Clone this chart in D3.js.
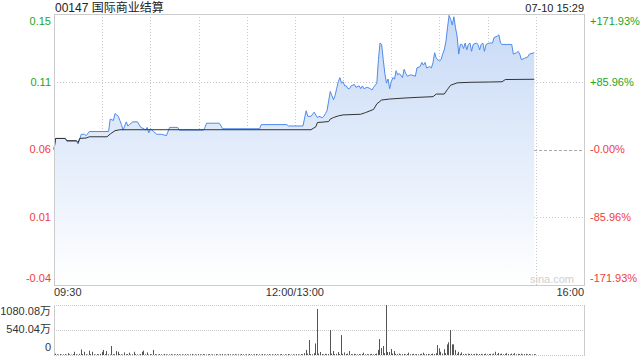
<!DOCTYPE html>
<html>
<head>
<meta charset="utf-8">
<script src="https://cdn.jsdelivr.net/npm/d3@7"></script>
<style>
  body { margin: 0; background: #fff; }
  text { font-family: "Liberation Sans", Arial, "Noto Sans CJK SC", sans-serif; }
</style>
</head>
<body>
<svg id="chart" width="640" height="360"></svg>
<script>
// 标题
const stockTitle = "00147 国际商业结算";
const stampText = "07-10 15:29";

// 昨收与坐标刻度
const prevClose = 0.057;
const pctTicks = [171.93, 85.96, 0, -85.96, -171.93];
const priceLabels = ["0.15", "0.11", "0.06", "0.01", "-0.04"];
const pctLabels = ["+171.93%", "+85.96%", "-0.00%", "-85.96%", "-171.93%"];

// 时间轴 (分钟, 09:30起, 午休不计)
const totalMinutes = 330;
const timeTicks = [0, 150, 330];
const timeLabels = ["09:30", "12:00/13:00", "16:00"];
const gridMinutes = [30, 60, 90, 120, 150, 180, 210, 240, 270, 300];

// 成交量刻度 (万)
const volTicks = [1080.08, 540.04, 0];
const volLabels = ["1080.08万", "540.04万", "0"];

// 分时价格
const priceTimes = [0, 1, 7, 8, 14, 15, 17, 19, 20, 22, 34, 35, 37, 38, 40, 41, 42, 43, 45, 46, 47, 49, 52, 54, 56, 57, 58, 59, 60, 61, 62, 64, 67, 70, 72, 77, 78, 93, 94, 95, 103, 105, 128, 129, 145, 146, 155,
  157, 158, 160, 162, 164, 165, 167, 168, 169, 170, 171, 172, 173, 174, 175, 176, 177, 178, 179, 180, 181, 182, 183, 184, 185, 187, 188, 190, 191, 192, 193, 195, 197, 198, 199, 201, 202, 203, 204, 205, 206, 207, 208, 209, 210, 211, 212, 213, 214, 215, 217, 218, 219, 220, 222, 225, 226, 228, 229, 230, 231, 232, 234, 235, 236, 237, 238, 240, 241, 242, 243, 244, 245, 246, 247, 248, 249, 250, 251, 252, 253, 254, 255, 256, 257, 258, 259, 260, 261, 263, 264, 265, 266, 267, 268, 269, 271, 273, 274, 276, 277, 278, 279, 285, 286, 288, 289, 290, 291, 293, 295, 296, 299];
const prices = [0.057, 0.065, 0.065, 0.063, 0.063, 0.061, 0.068, 0.068, 0.067, 0.070, 0.070, 0.079, 0.078, 0.083, 0.081, 0.078, 0.075, 0.071, 0.077, 0.074, 0.075, 0.077, 0.077, 0.073, 0.072, 0.071, 0.073, 0.069, 0.072, 0.071, 0.070, 0.068, 0.068, 0.067, 0.073, 0.073, 0.071, 0.071, 0.073, 0.076, 0.076, 0.072, 0.072, 0.075, 0.075, 0.074, 0.074,
  0.085, 0.081, 0.081, 0.084, 0.080, 0.081, 0.080, 0.081, 0.083, 0.085, 0.092, 0.099, 0.096, 0.093, 0.096, 0.101, 0.106, 0.109, 0.105, 0.106, 0.103, 0.103, 0.101, 0.101, 0.103, 0.104, 0.102, 0.103, 0.101, 0.103, 0.101, 0.102, 0.101, 0.100, 0.102, 0.105, 0.122, 0.134, 0.133, 0.122, 0.112, 0.105, 0.108, 0.101, 0.106, 0.109, 0.108, 0.114, 0.111, 0.112, 0.109, 0.115, 0.112, 0.110, 0.111, 0.110, 0.116, 0.117, 0.120, 0.118, 0.120, 0.116, 0.117, 0.116, 0.120, 0.127, 0.123, 0.121, 0.122, 0.126, 0.129, 0.135, 0.145, 0.154, 0.151, 0.147, 0.153, 0.145, 0.139, 0.126, 0.133, 0.133, 0.130, 0.134, 0.129, 0.133, 0.134, 0.128, 0.133, 0.134, 0.133, 0.129, 0.133, 0.134, 0.128, 0.133, 0.134, 0.134, 0.138, 0.139, 0.140, 0.134, 0.133, 0.133, 0.126, 0.127, 0.128, 0.126, 0.122, 0.123, 0.124, 0.126, 0.127];

// 均价
const avgTimes = [0, 1, 7, 8, 14, 15, 16, 20, 22, 33, 35, 38, 41, 155, 160, 163, 164, 171, 172, 174, 177, 180, 191, 194, 199, 201, 204, 209, 218, 226, 236, 238, 243, 245, 247, 251, 259, 271, 279, 281, 299];
const avgPrices = [0.057, 0.065, 0.065, 0.0634, 0.0634, 0.062, 0.0650, 0.0653, 0.0662, 0.0662, 0.0682, 0.0706, 0.0713, 0.0713, 0.0713, 0.0734, 0.0765, 0.0772, 0.079, 0.0801, 0.0813, 0.082, 0.0825, 0.0837, 0.086, 0.090, 0.0928, 0.0935, 0.0942, 0.0947, 0.0952, 0.0971, 0.0971, 0.1005, 0.1035, 0.1052, 0.1056, 0.1058, 0.1060, 0.1076, 0.1078];

// 每分钟成交量 (万)
const volumes = [
  30, 15, 10, 20, 10, 15, 20, 10, 40, 15, 10, 20, 70, 15, 10, 25, 120, 20, 70, 15, 10, 95, 20, 70, 15, 10, 20, 15, 25, 70,
  110, 20, 85, 15, 10, 195, 20, 15, 85, 70, 20, 15, 10, 55, 15, 20, 50, 10, 15, 70, 20, 15, 10, 20, 70, 95, 15, 55, 10, 20,
  15, 110, 20, 15, 10, 20, 15, 10, 20, 15, 10, 15, 20, 10, 15, 10, 20, 15, 10, 15, 10, 20, 15, 10, 15, 20, 10, 15, 10, 20,
  15, 10, 20, 15, 10, 15, 20, 10, 15, 10, 20, 15, 10, 15, 20, 10, 15, 10, 20, 15, 10, 15, 20, 10, 15, 10, 20, 15, 10, 15,
  10, 20, 15, 10, 15, 20, 10, 15, 10, 20, 15, 10, 15, 20, 10, 15, 10, 20, 15, 10, 15, 20, 10, 15, 10, 20, 15, 10, 15, 10,
  20, 15, 10, 20, 15, 40, 110, 30, 325, 20, 15, 40, 250, 995, 30, 65, 20, 15, 25, 20, 20, 540, 30, 85, 20, 25, 65, 20, 430, 25,
  55, 20, 30, 85, 20, 15, 25, 20, 15, 20, 15, 20, 50, 15, 20, 15, 20, 25, 15, 20, 30, 110, 345, 150, 195, 40, 1080.08, 65, 65, 130,
  30, 85, 25, 20, 30, 15, 20, 25, 15, 20, 50, 15, 20, 25, 15, 20, 15, 20, 25, 50, 15, 20, 25, 15, 20, 30, 20, 40, 215, 145,
  70, 30, 125, 40, 230, 275, 540, 230, 230, 110, 30, 70, 25, 55, 20, 25, 15, 30, 20, 25, 15, 20, 30, 15, 20, 25, 15, 20, 30, 15,
  20, 25, 15, 30, 70, 20, 45, 20, 30, 15, 25, 40, 20, 15, 30, 20, 40, 15, 25, 20, 30, 15, 20, 25, 15, 20, 15, 10, 20, 15
];

const svg = d3.select("#chart");

// 布局
const plotL = 54, plotR = 584;
const plotT = 14, plotB = 285;
const volT = 305, volB = 355;

const lowP = prevClose * (1 + pctTicks[pctTicks.length - 1] / 100);
const highP = prevClose * (1 + pctTicks[0] / 100);

const x = d3.scaleLinear().domain([0, totalMinutes]).range([plotL, plotR]);
const y = d3.scaleLinear().domain([lowP, highP]).range([plotB, plotT]);
const yv = d3.scaleLinear().domain([0, volTicks[0]]).range([volB, volT]);

const px = v => Math.round(v) + 0.5;

// 渐变填充
const grad = svg.append("defs").append("linearGradient")
  .attr("id", "areaFill")
  .attr("gradientUnits", "userSpaceOnUse")
  .attr("x1", 0).attr("x2", 0)
  .attr("y1", plotT).attr("y2", plotB);
grad.append("stop").attr("offset", 0).attr("stop-color", "#c6d9f6");
grad.append("stop").attr("offset", 1).attr("stop-color", "#ffffff");

// 竖向网格
svg.append("g").selectAll("line")
  .data(gridMinutes)
  .join("line")
  .attr("x1", d => px(x(d))).attr("x2", d => px(x(d)))
  .attr("y1", plotT).attr("y2", plotB)
  .attr("stroke", "#c8c8c8")
  .attr("stroke-dasharray", "1,2");

// 横向网格
const tickPrices = pctTicks.map(p => prevClose * (1 + p / 100));
svg.append("g").selectAll("line")
  .data(tickPrices.slice(1, -1))
  .join("line")
  .attr("x1", plotL).attr("x2", plotR)
  .attr("y1", d => px(y(d))).attr("y2", d => px(y(d)))
  .attr("stroke", (d, i) => i === 1 ? "#aaa" : "#c8c8c8")
  .attr("stroke-dasharray", (d, i) => i === 1 ? "3,2" : "1,2");

// 价格面积与线
const pts = priceTimes.map((t, i) => [t, prices[i]]);
svg.append("path")
  .datum(pts)
  .attr("fill", "url(#areaFill)")
  .attr("d", d3.area().x(d => x(d[0])).y0(plotB).y1(d => y(d[1])));

svg.append("path")
  .datum(pts)
  .attr("fill", "none")
  .attr("stroke", "#4f8bea")
  .attr("stroke-width", 1)
  .attr("d", d3.line().x(d => x(d[0])).y(d => y(d[1])));

// 均价线
svg.append("path")
  .datum(avgTimes.map((t, i) => [t, avgPrices[i]]))
  .attr("fill", "none")
  .attr("stroke", "#333")
  .attr("stroke-width", 1)
  .attr("d", d3.line().x(d => x(d[0])).y(d => y(d[1])));

// 边框
svg.append("rect")
  .attr("x", plotL + 0.5).attr("y", plotT + 0.5)
  .attr("width", plotR - plotL).attr("height", plotB - plotT)
  .attr("fill", "none")
  .attr("stroke", "#ccc");

// 左右价格标签
const labelY = (d, i, n) => {
  const yy = y(d);
  if (i === 0) return yy + 7;
  if (i === n - 1) return yy - 7;
  return yy;
};
const lblColor = p => p > 0 ? "#1ca61c" : "#f03c3c";

svg.append("g").selectAll("text")
  .data(tickPrices)
  .join("text")
  .attr("x", plotL - 3)
  .attr("y", (d, i) => labelY(d, i, tickPrices.length))
  .attr("dy", "0.35em")
  .attr("text-anchor", "end")
  .attr("font-size", 11)
  .attr("fill", (d, i) => lblColor(pctTicks[i]))
  .text((d, i) => priceLabels[i]);

svg.append("g").selectAll("text")
  .data(tickPrices)
  .join("text")
  .attr("x", plotR + 6)
  .attr("y", (d, i) => labelY(d, i, tickPrices.length))
  .attr("dy", "0.35em")
  .attr("font-size", 11)
  .attr("fill", (d, i) => lblColor(pctTicks[i]))
  .text((d, i) => pctLabels[i]);

// 水印
svg.append("text")
  .attr("x", plotR - 10).attr("y", plotB - 2)
  .attr("text-anchor", "end")
  .attr("font-size", 11)
  .attr("fill", "#d0d0d0")
  .text("sina.com");

// 时间标签
svg.append("g").selectAll("text")
  .data(timeTicks)
  .join("text")
  .attr("x", d => x(d))
  .attr("y", 296)
  .attr("text-anchor", (d, i) => i === 0 ? "start" : (i === timeTicks.length - 1 ? "end" : "middle"))
  .attr("font-size", 11)
  .attr("fill", "#333")
  .text((d, i) => timeLabels[i]);

// 标题与时间戳
svg.append("text")
  .attr("x", plotL + 1).attr("y", 12)
  .attr("font-size", 12)
  .attr("fill", "#222")
  .text(stockTitle);

svg.append("text")
  .attr("x", plotR).attr("y", 12)
  .attr("text-anchor", "end")
  .attr("font-size", 11)
  .attr("fill", "#222")
  .text(stampText);

// 成交量区
svg.append("g").selectAll("line")
  .data(volTicks)
  .join("line")
  .attr("x1", plotL).attr("x2", plotR)
  .attr("y1", d => px(yv(d))).attr("y2", d => px(yv(d)))
  .attr("stroke", "#c8c8c8")
  .attr("stroke-dasharray", "1,1");

svg.append("g").selectAll("line")
  .data([plotL, plotR])
  .join("line")
  .attr("x1", d => d + 0.5).attr("x2", d => d + 0.5)
  .attr("y1", volT).attr("y2", volB + 1)
  .attr("stroke", "#ccc");

svg.append("g").selectAll("rect")
  .data(volumes)
  .join("rect")
  .attr("x", (d, i) => Math.round(x(i)) + 1)
  .attr("width", 1)
  .attr("y", d => yv(d))
  .attr("height", d => volB - yv(d))
  .attr("fill", "#555");

svg.append("g").selectAll("text")
  .data(volTicks)
  .join("text")
  .attr("x", plotL - 3)
  .attr("y", (d, i) => {
    const yy = yv(d);
    if (i === 0) return yy + 6;
    if (i === volTicks.length - 1) return yy - 8;
    return yy - 1;
  })
  .attr("dy", "0.35em")
  .attr("text-anchor", "end")
  .attr("font-size", 11)
  .attr("fill", "#333")
  .text((d, i) => volLabels[i]);
</script>
</body>
</html>
